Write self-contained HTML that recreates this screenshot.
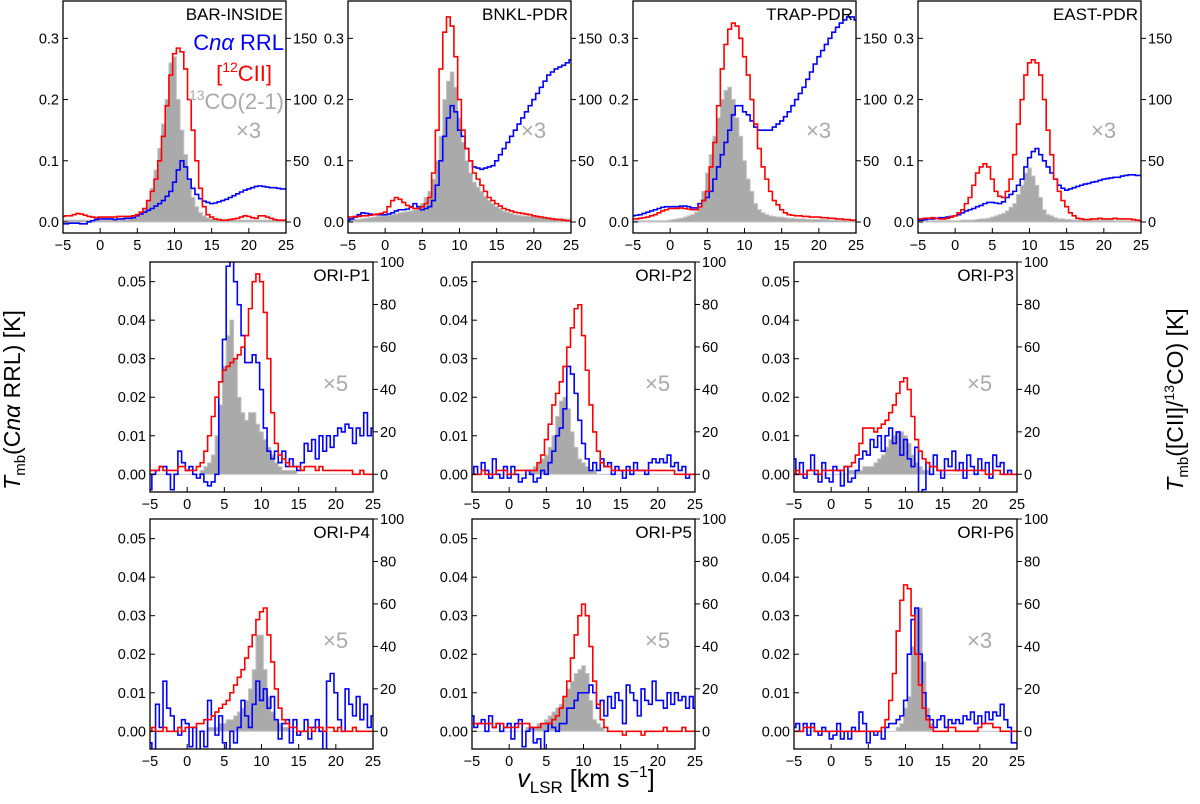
<!DOCTYPE html>
<html><head><meta charset="utf-8"><style>
html,body{margin:0;padding:0;background:#fff;}
svg{display:block;font-family:"Liberation Sans","DejaVu Sans",sans-serif;}
</style></head><body>
<svg id="fig" width="1200" height="804" viewBox="0 0 1200 804" xmlns="http://www.w3.org/2000/svg">
<g id="panels"></g>
<text x="20" y="400" font-size="23" text-anchor="middle" transform="rotate(-90 20 400)"><tspan font-style="italic">T</tspan><tspan font-size="15" dy="5">mb</tspan><tspan dy="-5">(C</tspan><tspan font-style="italic">nα</tspan> RRL) [K]</text>
<text x="1183" y="400" font-size="23" text-anchor="middle" transform="rotate(-90 1183 400)"><tspan font-style="italic">T</tspan><tspan font-size="15" dy="5">mb</tspan><tspan dy="-5">([CII]/</tspan><tspan font-size="14" dy="-9">13</tspan><tspan dy="9">CO) [K]</tspan></text>
<text x="586" y="787" font-size="25" text-anchor="middle"><tspan font-style="italic">v</tspan><tspan font-size="17" dy="6">LSR</tspan><tspan dy="-6"> [km s</tspan><tspan font-size="16" dy="-10">−1</tspan><tspan dy="10">]</tspan></text>
</svg>
<script>
// velocity channels: -5 .. 25 step 0.5 (61 channels)
const vStart = -5, vStep = 0.5;
const panelNames = ["BAR-INSIDE","BNKL-PDR","TRAP-PDR","EAST-PDR","ORI-P1","ORI-P2","ORI-P3","ORI-P4","ORI-P5","ORI-P6"];
const panelFactors = ["×3","×3","×3","×3","×5","×5","×5","×5","×5","×3"];
const xTicks = [-5,0,5,10,15,20,25];
const topLeftTicks = [0.0,0.1,0.2,0.3];
const topLeftTickLabels = ["0.0","0.1","0.2","0.3"];
const topRightTicks = [0,50,100,150];
const lowLeftTicks = [0,0.01,0.02,0.03,0.04,0.05];
const lowLeftTickLabels = ["0.00","0.01","0.02","0.03","0.04","0.05"];
const lowRightTicks = [0,20,40,60,80,100];

// values plotted in left-axis units
const barRed = [0.009,0.010,0.010,0.012,0.014,0.013,0.011,0.009,0.008,0.007, 0.008,0.008,0.008,0.008,0.008,0.009,0.009,0.009,0.009,0.010, 0.012,0.016,0.022,0.035,0.050,0.070,0.100,0.140,0.190,0.240, 0.275,0.284,0.278,0.250,0.200,0.150,0.100,0.055,0.025,0.012, 0.008,0.005,0.004,0.003,0.003,0.004,0.005,0.006,0.008,0.010, 0.009,0.007,0.006,0.010,0.010,0.008,0.006,0.004,0.003,0.003, 0.003];
const barGray = [0.003,0.003,0.003,0.003,0.003,0.003,0.003,0.003,0.003,0.003, 0.003,0.003,0.003,0.003,0.003,0.003,0.004,0.004,0.005,0.006, 0.008,0.012,0.020,0.035,0.055,0.085,0.120,0.160,0.200,0.260, 0.270,0.200,0.150,0.110,0.070,0.040,0.025,0.015,0.010,0.007, 0.005,0.004,0.004,0.003,0.003,0.003,0.003,0.003,0.003,0.003, 0.003,0.003,0.003,0.003,0.003,0.003,0.003,0.003,0.003,0.003, 0.003];
const barBlue = [-0.003,-0.003,-0.002,-0.002,-0.002,-0.003,-0.003,0.000,0.002,0.004, 0.005,0.005,0.005,0.005,0.004,0.005,0.005,0.006,0.006,0.007, 0.010,0.013,0.016,0.019,0.022,0.026,0.030,0.035,0.042,0.050, 0.065,0.085,0.100,0.090,0.070,0.055,0.045,0.038,0.034,0.032, 0.030,0.031,0.033,0.035,0.037,0.040,0.043,0.046,0.049,0.052, 0.054,0.056,0.058,0.059,0.058,0.057,0.056,0.056,0.055,0.054, 0.054];

const bnklRed = [0.008,0.008,0.009,0.009,0.010,0.010,0.011,0.012,0.013,0.014, 0.016,0.025,0.035,0.040,0.037,0.032,0.027,0.024,0.022,0.022, 0.025,0.030,0.040,0.080,0.150,0.250,0.310,0.335,0.320,0.270, 0.200,0.150,0.120,0.100,0.080,0.070,0.060,0.050,0.040,0.035, 0.030,0.026,0.022,0.020,0.018,0.016,0.015,0.014,0.013,0.012, 0.010,0.009,0.008,0.007,0.006,0.005,0.004,0.004,0.003,0.002, 0.002];
const bnklGray = [0.003,0.003,0.004,0.004,0.005,0.006,0.007,0.008,0.009,0.010, 0.010,0.011,0.012,0.013,0.015,0.016,0.017,0.018,0.020,0.022, 0.030,0.040,0.050,0.070,0.100,0.140,0.200,0.230,0.245,0.220, 0.170,0.130,0.100,0.080,0.065,0.057,0.050,0.042,0.035,0.030, 0.025,0.022,0.018,0.016,0.014,0.012,0.011,0.010,0.010,0.009, 0.009,0.008,0.008,0.007,0.007,0.006,0.006,0.005,0.005,0.005, 0.005];
const bnklBlue = [0.003,0.005,0.008,0.012,0.015,0.014,0.013,0.012,0.012,0.012, 0.012,0.013,0.015,0.018,0.020,0.020,0.021,0.025,0.030,0.025, 0.020,0.022,0.025,0.035,0.060,0.100,0.140,0.170,0.190,0.180, 0.150,0.140,0.120,0.100,0.090,0.088,0.086,0.088,0.090,0.092, 0.100,0.110,0.120,0.130,0.140,0.150,0.160,0.170,0.180,0.190, 0.200,0.210,0.220,0.230,0.240,0.245,0.250,0.253,0.256,0.260, 0.265];

const trapRed = [0.005,0.005,0.006,0.007,0.008,0.010,0.012,0.015,0.018,0.020, 0.022,0.022,0.022,0.023,0.022,0.021,0.020,0.020,0.025,0.035, 0.050,0.090,0.130,0.190,0.250,0.290,0.315,0.325,0.320,0.300, 0.270,0.240,0.200,0.160,0.120,0.090,0.070,0.050,0.035,0.028, 0.020,0.015,0.012,0.011,0.010,0.010,0.009,0.009,0.008,0.008, 0.008,0.007,0.007,0.006,0.006,0.005,0.005,0.004,0.004,0.003, 0.003];
const trapGray = [0.002,0.002,0.002,0.002,0.002,0.002,0.002,0.002,0.002,0.002, 0.003,0.004,0.005,0.006,0.008,0.010,0.012,0.016,0.025,0.050, 0.080,0.110,0.140,0.170,0.200,0.215,0.220,0.200,0.170,0.140, 0.100,0.070,0.050,0.030,0.020,0.015,0.012,0.010,0.009,0.008, 0.008,0.007,0.006,0.006,0.005,0.005,0.005,0.004,0.004,0.004, 0.004,0.004,0.004,0.003,0.003,0.003,0.003,0.003,0.003,0.003, 0.003];
const trapBlue = [0.010,0.011,0.012,0.014,0.016,0.018,0.020,0.022,0.024,0.025, 0.025,0.025,0.025,0.026,0.026,0.025,0.023,0.023,0.030,0.035, 0.040,0.050,0.070,0.090,0.110,0.130,0.150,0.175,0.190,0.190, 0.180,0.175,0.165,0.155,0.150,0.150,0.150,0.150,0.155,0.160, 0.165,0.172,0.180,0.190,0.200,0.210,0.220,0.233,0.245,0.258, 0.270,0.280,0.290,0.300,0.310,0.318,0.325,0.330,0.335,0.335, 0.330];

const eastRed = [0.005,0.005,0.006,0.006,0.007,0.006,0.005,0.005,0.006,0.008, 0.010,0.015,0.020,0.030,0.040,0.060,0.080,0.090,0.095,0.090, 0.070,0.050,0.042,0.040,0.050,0.070,0.110,0.160,0.200,0.240, 0.260,0.265,0.260,0.240,0.200,0.150,0.110,0.070,0.050,0.035, 0.025,0.015,0.010,0.006,0.005,0.004,0.004,0.005,0.005,0.006, 0.005,0.005,0.005,0.006,0.005,0.005,0.005,0.005,0.004,0.003, 0.002];
const eastGray = [0.002,0.002,0.002,0.002,0.002,0.002,0.002,0.002,0.002,0.002, 0.002,0.002,0.003,0.003,0.003,0.003,0.004,0.005,0.005,0.006, 0.008,0.010,0.012,0.014,0.018,0.024,0.030,0.045,0.060,0.080, 0.088,0.075,0.060,0.040,0.020,0.012,0.010,0.007,0.005,0.005, 0.004,0.004,0.003,0.003,0.003,0.003,0.003,0.003,0.003,0.003, 0.003,0.003,0.003,0.002,0.002,0.002,0.002,0.002,0.002,0.002, 0.002];
const eastBlue = [0.003,0.003,0.004,0.005,0.005,0.006,0.007,0.007,0.008,0.009, 0.010,0.012,0.015,0.018,0.020,0.022,0.025,0.027,0.030,0.032, 0.032,0.031,0.030,0.033,0.040,0.045,0.050,0.060,0.070,0.090, 0.105,0.115,0.120,0.110,0.100,0.090,0.080,0.070,0.060,0.055, 0.052,0.054,0.056,0.058,0.060,0.062,0.063,0.065,0.066,0.068, 0.070,0.071,0.072,0.073,0.073,0.075,0.076,0.077,0.077,0.076, 0.076];

const p1Red = [0.001,0.001,0.001,0.002,0.001,0.001,0.001,0.001,0.002,0.002, 0.001,0.001,0.001,0.002,0.003,0.006,0.010,0.015,0.020,0.024, 0.027,0.028,0.029,0.030,0.031,0.033,0.036,0.043,0.050,0.052, 0.050,0.042,0.030,0.016,0.008,0.005,0.004,0.003,0.002,0.002, 0.002,0.001,0.002,0.002,0.002,0.001,0.002,0.001,0.001,0.001, 0.001,0.001,0.001,0.001,0.001,0.000,0.000,0.001,0.000,0.000, 0.000];
const p1Gray = [0,0,0,0,0,0,0,0,0,0, 0,0,0,0,0.001,0.002,0.003,0.005,0.010,0.018, 0.028,0.036,0.040,0.030,0.020,0.016,0.014,0.016,0.016,0.013, 0.011,0.009,0.007,0.005,0.003,0.002,0.001,0.001,0.001,0.001, 0,0,0,0,0,0,0,0,0,0, 0,0,0,0,0,0,0,0,0,0, 0];
const p1Blue = [-0.004,0.000,0.001,0.002,0.002,0.000,-0.004,0.000,0.006,0.003, 0.001,0.002,0.000,-0.001,0.000,-0.002,-0.003,-0.002,0.000,0.024, 0.035,0.054,0.056,0.050,0.044,0.036,0.029,0.029,0.031,0.029, 0.022,0.012,0.006,0.004,0.006,0.003,0.006,0.002,0.004,0.002, 0.001,0.003,0.008,0.006,0.009,0.004,0.010,0.006,0.010,0.007, 0.010,0.012,0.011,0.013,0.012,0.008,0.012,0.010,0.016,0.010, 0.012];

const p2Red = [0.000,0.000,0.000,0.001,0.000,0.000,0.000,0.001,0.001,0.001, 0.000,0.000,0.001,0.001,0.001,0.001,0.001,0.001,0.003,0.005, 0.009,0.013,0.018,0.021,0.024,0.028,0.033,0.038,0.043,0.044, 0.036,0.027,0.018,0.011,0.006,0.003,0.002,0.002,0.001,0.001, 0.001,0.001,0.001,0.001,0.001,0.001,0.001,0.001,0.001,0.001, 0.001,0.001,0.001,0.001,0.001,0.000,0.000,0.000,0.000,0.000, 0.000];
const p2Gray = [0,0,0,0,0,0,0,0,0,0, 0,0,0,0,0,0,0.001,0.002,0.003,0.004, 0.005,0.007,0.010,0.015,0.019,0.020,0.017,0.011,0.007,0.004, 0.003,0.002,0.001,0.001,0,0,0,0,0,0, 0,0,0,0,0,0,0,0,0,0, 0,0,0,0,0,0,0,0,0,0, 0];
const p2Blue = [0.000,0.002,0.000,0.003,0.001,-0.001,0.004,0.000,-0.001,0.002, -0.001,0.002,0.000,-0.002,-0.001,0.001,0.000,-0.002,-0.001,0.001, 0.000,0.003,0.006,0.010,0.012,0.017,0.028,0.026,0.021,0.014, 0.008,0.004,0.001,0.003,0.001,0.004,0.002,0.003,0.000,0.002, 0.001,-0.001,0.002,0.000,0.003,0.001,0.001,0.000,0.003,0.004, 0.003,0.004,0.003,0.005,0.002,0.003,0.001,0.002,-0.001,0.000, 0.000];

const p3Red = [0.000,0.001,0.000,0.000,0.001,0.001,0.001,0.000,0.001,0.001, 0.001,0.001,0.001,0.001,0.002,0.002,0.003,0.005,0.008,0.012, 0.012,0.012,0.011,0.012,0.013,0.014,0.016,0.018,0.021,0.024, 0.025,0.022,0.015,0.009,0.006,0.004,0.003,0.002,0.002,0.001, 0.001,0.001,0.001,0.001,0.001,0.001,0.001,0.001,0.001,0.001, 0.001,0.001,0.000,0.000,0.001,0.001,0.000,0.000,0.000,0.000, 0.000];
const p3Gray = [0,0,0,0,0,0,0,0,0,0, 0,0,0,0,0,0.001,0.001,0.001,0.001,0.002, 0.002,0.002,0.003,0.004,0.005,0.007,0.009,0.010,0.011,0.011, 0.010,0.008,0.005,0.003,0.002,0.001,0.001,0,0,0, 0,0,0,0,0,0,0,0,0,0, 0,0,0,0,0,0,0,0,0,0, 0];
const p3Blue = [0.004,0.000,0.003,-0.001,0.001,0.005,0.000,-0.002,0.003,-0.001, -0.002,0.002,0.001,-0.003,0.002,-0.002,-0.001,0.001,0.004,0.006, 0.005,0.009,0.007,0.010,0.006,0.010,0.012,0.008,0.011,0.005, 0.009,0.004,0.002,0.007,-0.008,-0.004,0.003,0.000,0.005,0.001, -0.001,0.004,0.002,0.006,0.001,0.003,-0.001,0.005,0.002,0.000, 0.004,0.001,0.003,-0.001,0.005,0.002,0.003,0.000,0.001,0.000, 0.000];

const p4Red = [0.000,0.001,0.000,0.000,0.001,0.000,0.000,0.000,0.001,0.000, 0.001,0.001,0.001,0.002,0.002,0.003,0.003,0.004,0.005,0.006, 0.007,0.008,0.010,0.012,0.014,0.016,0.019,0.022,0.025,0.029, 0.031,0.032,0.025,0.018,0.011,0.006,0.003,0.002,0.001,0.001, 0.000,0.000,0.000,0.001,0.000,0.001,0.001,0.000,0.001,0.001, 0.000,0.001,0.000,0.000,0.000,0.001,0.000,0.000,0.000,0.000, 0.000];
const p4Gray = [0,0,0,0,0,0,0,0,0,0, 0,0,0,0,0,0,0.001,0.001,0.001,0.002, 0.002,0.003,0.003,0.004,0.005,0.006,0.008,0.011,0.016,0.025, 0.025,0.016,0.009,0.005,0.003,0.002,0.001,0.001,0,0, 0,0,0,0,0,0,0,0,0,0, 0,0,0,0,0,0,0,0,0,0, 0];
const p4Blue = [-0.003,-0.006,0.007,0.001,0.013,0.006,0.004,0.000,-0.001,0.003, 0.002,-0.004,0.001,-0.005,0.000,-0.004,0.008,0.004,-0.001,0.004, -0.003,-0.005,0.000,-0.003,0.001,0.008,0.004,0.001,0.007,0.013, 0.008,0.011,0.006,0.009,0.003,-0.002,0.002,0.003,-0.003,0.003, -0.001,0.000,0.003,-0.002,0.001,0.003,0.000,-0.006,0.013,0.015, 0.010,0.003,0.000,0.011,0.007,0.004,0.009,0.003,0.007,0.001, 0.004];

const p5Red = [0.002,0.002,0.002,0.002,0.002,0.002,0.001,0.002,0.002,0.001, 0.001,0.001,0.001,0.002,0.002,0.002,0.001,0.001,0.001,0.002, 0.002,0.002,0.003,0.004,0.006,0.009,0.013,0.019,0.025,0.030, 0.033,0.030,0.022,0.013,0.007,0.003,0.001,0.000,0.000,0.000, 0.000,-0.001,0.000,0.000,0.000,0.000,-0.001,0.000,0.000,0.000, 0.000,0.000,0.001,0.000,0.000,0.000,0.000,0.001,0.000,0.000, 0.000];
const p5Gray = [0,0,0,0,0,0,0,0,0,0, 0,0,0,0,0,0.001,0.001,0.001,0.002,0.002, 0.003,0.004,0.005,0.006,0.007,0.009,0.011,0.013,0.015,0.016, 0.017,0.015,0.008,0.003,0.002,0.001,0,0,0,0, 0,0,0,0,0,0,0,0,0,0, 0,0,0,0,0,0,0,0,0,0, 0];
const p5Blue = [0.004,0.001,0.002,0.003,0.000,0.004,0.001,0.002,0.000,0.001, 0.002,-0.002,0.002,0.003,-0.004,0.000,0.001,-0.003,-0.002,-0.005, 0.000,0.002,0.001,0.000,0.002,0.002,0.006,0.006,0.008,0.010, 0.010,0.010,0.012,0.010,0.006,0.008,0.004,0.009,0.006,0.010, 0.008,0.002,0.012,0.010,0.008,0.004,0.011,0.008,0.007,0.013, 0.008,0.008,0.006,0.010,0.007,0.010,0.008,0.009,0.006,0.009, 0.006];

const p6Red = [0.000,0.000,0.000,0.001,0.001,0.001,0.000,0.000,0.000,0.000, 0.000,0.000,0.000,0.000,0.000,0.000,0.000,0.000,0.000,0.000, 0.000,0.000,0.000,0.000,0.001,0.003,0.008,0.015,0.026,0.034, 0.038,0.037,0.030,0.020,0.012,0.006,0.003,0.001,0.000,0.000, 0.000,0.000,0.001,0.001,0.000,0.000,0.000,0.000,0.000,0.000, 0.001,0.002,0.002,0.002,0.001,0.001,0.000,0.000,0.000,0.000, 0.000];
const p6Gray = [0,0,0,0,0,0,0,0,0,0, 0,0,0,0,0,0,0,0,0,0, 0,0,0,0,0,0,0,0,0.001,0.002, 0.006,0.009,0.022,0.032,0.032,0.018,0.006,0.002,0,0, 0,0,0,0,0,0,0,0,0,0, 0,0,0,0,0,0,0,0,0,0, 0];
const p6Blue = [0.001,0.002,0.000,0.002,-0.001,0.002,0.000,-0.001,0.001,0.000, -0.002,-0.001,0.002,-0.002,0.000,-0.002,0.001,0.000,0.005,0.002, -0.003,0.000,-0.001,0.000,-0.002,0.001,0.002,0.002,0.003,0.004, 0.008,0.020,0.029,0.032,0.020,0.010,0.004,0.003,0.001,0.003, 0.004,0.001,0.003,0.002,0.003,0.002,0.004,0.003,0.005,0.002, 0.004,0.002,0.005,0.003,0.005,0.004,0.007,0.003,0.001,-0.003, -0.003];

const redSeries = [barRed,bnklRed,trapRed,eastRed,p1Red,p2Red,p3Red,p4Red,p5Red,p6Red];
const graySeries = [barGray,bnklGray,trapGray,eastGray,p1Gray,p2Gray,p3Gray,p4Gray,p5Gray,p6Gray];
const blueSeries = [barBlue,bnklBlue,trapBlue,eastBlue,p1Blue,p2Blue,p3Blue,p4Blue,p5Blue,p6Blue];

const NS = "http://www.w3.org/2000/svg";
const root = document.getElementById('panels');
function mk(tag, attrs, parent){
  const e = document.createElementNS(NS, tag);
  for (const k in attrs) e.setAttribute(k, attrs[k]);
  parent.appendChild(e);
  return e;
}
const boxes = [
  {x:63,y:1,h:232,top:true},{x:348,y:1,h:232,top:true},{x:633,y:1,h:232,top:true},{x:918,y:1,h:232,top:true},
  {x:150,y:262,h:230},{x:472,y:262,h:230},{x:794,y:262,h:230},
  {x:150,y:519,h:230},{x:472,y:519,h:230},{x:794,y:519,h:230}
];
const W = 223;

boxes.forEach((b, p) => {
  const g = mk('g', {}, root);
  
  
  const ymin = b.top ? -0.018 : -0.0046, ymax = b.top ? 0.361 : 0.0551;
  const rScale = b.top ? 500 : 1815;
  const xs = v => b.x + (v + 5) / 30 * W;
  const ys = val => b.y + (ymax - val) / (ymax - ymin) * b.h;
  const clipId = 'clip' + p;
  const cp = mk('clipPath', {id: clipId}, g);
  mk('rect', {x:b.x, y:b.y, width:W, height:b.h}, cp);

  function stepPath(arr){
    let d = '';
    for (let i = 0; i < arr.length; i++){
      const v = vStart + i * vStep;
      const xl = xs(Math.max(-5, v - vStep/2)), xr = xs(Math.min(25, v + vStep/2));
      const y = ys(arr[i]).toFixed(2);
      d += (i === 0 ? 'M' + xl.toFixed(2) + ',' + y : 'L' + xl.toFixed(2) + ',' + y) + 'L' + xr.toFixed(2) + ',' + y;
    }
    return d;
  }
  const cg = mk('g', {'clip-path': 'url(#' + clipId + ')'}, g);
  const ga = graySeries[p];
  const gd = stepPath(ga) + 'L' + xs(25).toFixed(2) + ',' + ys(0).toFixed(2) + 'L' + xs(-5).toFixed(2) + ',' + ys(0).toFixed(2) + 'Z';
  const gp = mk('path', {d: gd, fill: '#aaaaaa', stroke: '#c4c4c4', 'stroke-width': 1}, cg);
  
  
  const bp = mk('path', {d: stepPath(blueSeries[p]), fill: 'none', stroke: '#0000ff', 'stroke-width': 1.6}, cg);
  
  
  const rp = mk('path', {d: stepPath(redSeries[p]), fill: 'none', stroke: '#ff0000', 'stroke-width': 1.6}, cg);
  
  

  const fr = mk('rect', {x:b.x, y:b.y, width:W, height:b.h, fill:'none', stroke:'#000', 'stroke-width':1.3}, g);
  
  

  xTicks.forEach(t => {
    const x = xs(t);
    mk('line', {x1:x, x2:x, y1:b.y+b.h, y2:b.y+b.h-5, stroke:'#000', 'stroke-width':1}, g);
    const tl = mk('text', {x:x, y:b.y+b.h+17, 'font-size':14.5, 'text-anchor':'middle'}, g);
    tl.textContent = t < 0 ? '−' + Math.abs(t) : String(t);
    
    
  });
  const lt = b.top ? topLeftTicks : lowLeftTicks;
  const ll = b.top ? topLeftTickLabels : lowLeftTickLabels;
  lt.forEach((t, i) => {
    const y = ys(t);
    mk('line', {x1:b.x, x2:b.x+5, y1:y, y2:y, stroke:'#000', 'stroke-width':1}, g);
    const tl = mk('text', {x:b.x-4, y:y+5, 'font-size':14.5, 'text-anchor':'end'}, g);
    tl.textContent = ll[i];
    
    
  });
  const rt = b.top ? topRightTicks : lowRightTicks;
  rt.forEach(t => {
    const y = ys(t / rScale);
    mk('line', {x1:b.x+W, x2:b.x+W+5, y1:y, y2:y, stroke:'#000', 'stroke-width':1}, g);
    const tl = mk('text', {x:b.x+W+7, y:y+5, 'font-size':14.5, 'text-anchor':'start'}, g);
    tl.textContent = String(t);
    
    
  });
  const tt = mk('text', {x:b.x+W-3, y:b.y+19, 'font-size':17, 'text-anchor':'end'}, g);
  tt.textContent = panelNames[p];
  
  
  const ft = mk('text', {x:b.x+173, y:b.y+(b.top?137:129), 'font-size':22, fill:'#aaaaaa'}, g);
  ft.textContent = panelFactors[p];
  
  

  if (p === 0){
    const l1 = mk('text', {x:b.x+W-2, y:b.y+49, 'font-size':22, fill:'#0000ff', 'text-anchor':'end'}, g);
    l1.innerHTML = 'C<tspan font-style="italic">nα</tspan> RRL';
    
    
    const l2 = mk('text', {x:b.x+W-14, y:b.y+80, 'font-size':22, fill:'#ff0000', 'text-anchor':'end'}, g);
    l2.innerHTML = '[<tspan font-size="14" dy="-9">12</tspan><tspan dy="9">CII]</tspan>';
    
    
    const l3 = mk('text', {x:b.x+W-2, y:b.y+108, 'font-size':22, fill:'#aaaaaa', 'text-anchor':'end'}, g);
    l3.innerHTML = '<tspan font-size="14" dy="-9">13</tspan><tspan dy="9">CO(2-1)</tspan>';
    
    
  }
});
</script>
</body></html>
